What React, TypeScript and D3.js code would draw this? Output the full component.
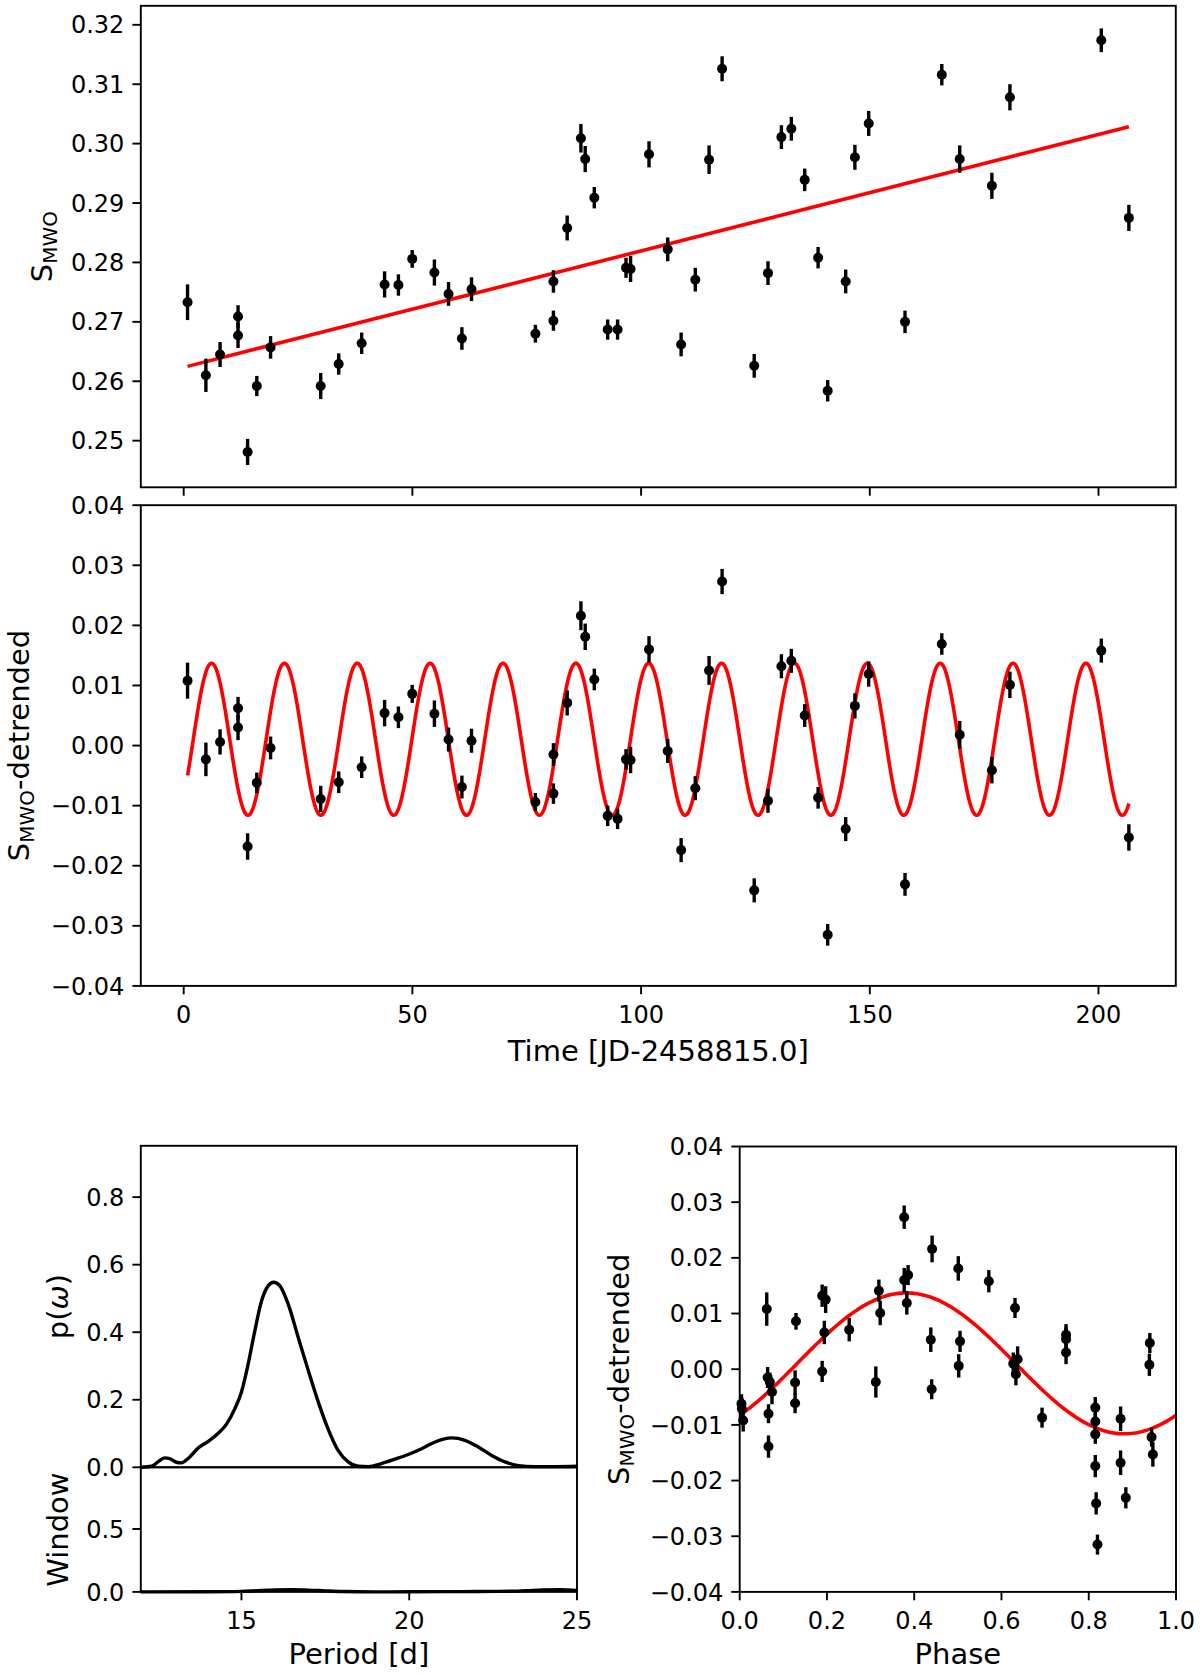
import React from 'react';
import * as d3 from 'd3';

// ---------- Data ----------
const times = [0.84, 4.85, 7.95, 11.88, 11.88, 13.97, 15.98, 18.99, 29.95, 33.89, 38.91, 43.92, 46.94, 49.96, 54.81, 57.90, 60.82, 62.92, 76.89, 80.83, 80.83, 83.84, 86.84, 87.78, 89.77, 92.69, 94.86, 96.70, 97.70, 101.73, 105.82, 108.75, 111.85, 114.86, 117.71, 124.73, 127.74, 130.67, 132.84, 135.77, 138.70, 140.79, 144.73, 146.74, 149.76, 157.70, 165.74, 169.66, 176.69, 180.63, 200.61, 206.64];
const sValues = [0.2733, 0.2610, 0.2645, 0.2709, 0.2677, 0.2481, 0.2592, 0.2657, 0.2592, 0.2629, 0.2664, 0.2763, 0.2762, 0.2806, 0.2783, 0.2747, 0.2672, 0.2755, 0.2680, 0.2768, 0.2702, 0.2858, 0.3009, 0.2974, 0.2909, 0.2687, 0.2687, 0.2791, 0.2789, 0.2982, 0.2822, 0.2662, 0.2771, 0.2973, 0.3126, 0.2626, 0.2782, 0.3011, 0.3025, 0.2939, 0.2808, 0.2584, 0.2768, 0.2977, 0.3034, 0.2700, 0.3116, 0.2974, 0.2929, 0.3078, 0.3174, 0.2875];
const errors = [0.0030, 0.0028, 0.0021, 0.0019, 0.0021, 0.0022, 0.0017, 0.0019, 0.0022, 0.0018, 0.0018, 0.0022, 0.0018, 0.0015, 0.0022, 0.0020, 0.0019, 0.0020, 0.0015, 0.0019, 0.0017, 0.0021, 0.0024, 0.0022, 0.0018, 0.0017, 0.0017, 0.0017, 0.0022, 0.0022, 0.0020, 0.0020, 0.0020, 0.0024, 0.0021, 0.0020, 0.0020, 0.0020, 0.0020, 0.0019, 0.0018, 0.0018, 0.0020, 0.0021, 0.0021, 0.0019, 0.0018, 0.0023, 0.0022, 0.0022, 0.0020, 0.0022];
const detrended = [0.0108, -0.0023, 0.0006, 0.0062, 0.0030, -0.0168, -0.0062, -0.0004, -0.0089, -0.0061, -0.0036, 0.0054, 0.0047, 0.0086, 0.0053, 0.0010, -0.0069, 0.0008, -0.0094, -0.0015, -0.0080, 0.0071, 0.0216, 0.0181, 0.0110, -0.0117, -0.0122, -0.0023, -0.0024, 0.0160, -0.0009, -0.0174, -0.0071, 0.0125, 0.0273, -0.0241, -0.0092, 0.0132, 0.0141, 0.0050, -0.0087, -0.0315, -0.0139, 0.0066, 0.0119, -0.0231, 0.0169, 0.0018, -0.0041, 0.0101, 0.0158, -0.0153];
const phases = [0.062, 0.312, 0.502, 0.748, 0.748, 0.873, 0.004, 0.189, 0.873, 0.127, 0.440, 0.748, 0.940, 0.129, 0.438, 0.627, 0.815, 0.939, 0.815, 0.064, 0.066, 0.251, 0.441, 0.501, 0.631, 0.815, 0.944, 0.069, 0.127, 0.377, 0.633, 0.815, 0.005, 0.197, 0.377, 0.817, 0.008, 0.189, 0.319, 0.505, 0.693, 0.820, 0.066, 0.194, 0.383, 0.885, 0.386, 0.637, 0.074, 0.322, 0.571, 0.947];

// linear trend fit
const trendIntercept = 0.26234;
const trendSlope = 0.000196;

// sinusoid fit
const sinePeriod = 15.93;
const sineAmplitude = 0.01265;
const sineOffset = 0.00105;
const sinePeakPhase = 0.382;

// periodogram
const periodGrid = [12.02, 12.32, 12.51, 12.71, 12.86, 13.06, 13.21, 13.41, 13.71, 14.01, 14.30, 14.55, 14.80, 15.00, 15.20, 15.40, 15.60, 15.80, 15.96, 16.14, 16.39, 16.69, 16.99, 17.29, 17.58, 17.88, 18.18, 18.48, 18.78, 19.17, 19.57, 19.97, 20.37, 20.77, 21.26, 21.66, 22.06, 22.46, 22.85, 23.25, 23.75, 24.34, 25.0];
const powerValues = [0.0, 0.003, 0.016, 0.028, 0.026, 0.015, 0.013, 0.026, 0.057, 0.077, 0.100, 0.127, 0.173, 0.223, 0.306, 0.405, 0.493, 0.538, 0.548, 0.538, 0.484, 0.385, 0.287, 0.193, 0.114, 0.050, 0.016, 0.003, 0.002, 0.011, 0.024, 0.038, 0.055, 0.075, 0.087, 0.080, 0.060, 0.035, 0.016, 0.005, 0.002, 0.002, 0.003];
const windowPeriods = [12.0, 14.0, 15.0, 15.5, 16.0, 16.5, 17.0, 17.5, 18.0, 19.0, 20.0, 21.0, 22.0, 23.0, 23.5, 24.0, 24.5, 25.0];
const windowValues = [0.0, 0.001, 0.004, 0.010, 0.015, 0.017, 0.014, 0.008, 0.003, 0.0, 0.001, 0.002, 0.003, 0.005, 0.010, 0.015, 0.017, 0.012];

// ticks
const timeTicks = [0, 50, 100, 150, 200];
const topYTicks = [0.25, 0.26, 0.27, 0.28, 0.29, 0.30, 0.31, 0.32];
const detrTicks = [-0.04, -0.03, -0.02, -0.01, 0.0, 0.01, 0.02, 0.03, 0.04];
const periodTicks = [15, 20, 25];
const powerTicks = [0.0, 0.2, 0.4, 0.6, 0.8];
const windowTicks = [0.0, 0.5];
const phaseTicks = [0.0, 0.2, 0.4, 0.6, 0.8, 1.0];

const FONT = "'DejaVu Sans', 'Liberation Sans', sans-serif";
const TICK_FS = 24;
const LABEL_FS = 29;
const TICK_LEN = 8.4;
const FRAME_W = 1.9;
const RED = '#ff0000';

type Scale = d3.ScaleLinear<number, number>;

function YAxis({ scale, ticks, x, fmt }: { scale: Scale; ticks: number[]; x: number; fmt: (v: number) => string }) {
  return (
    <g>
      {ticks.map((t, i) => (
        <g key={i}>
          <line x1={x - TICK_LEN} x2={x} y1={scale(t)} y2={scale(t)} stroke="#000" strokeWidth={FRAME_W} />
          <text x={x - TICK_LEN - 8} y={scale(t)} dy="0.36em" textAnchor="end" fontSize={TICK_FS} fontFamily={FONT} fill="#000">
            {fmt(t)}
          </text>
        </g>
      ))}
    </g>
  );
}

function XAxis({ scale, ticks, y, fmt, labels = true }: { scale: Scale; ticks: number[]; y: number; fmt: (v: number) => string; labels?: boolean }) {
  return (
    <g>
      {ticks.map((t, i) => (
        <g key={i}>
          <line x1={scale(t)} x2={scale(t)} y1={y} y2={y + TICK_LEN} stroke="#000" strokeWidth={FRAME_W} />
          {labels && (
            <text x={scale(t)} y={y + 37} textAnchor="middle" fontSize={TICK_FS} fontFamily={FONT} fill="#000">
              {fmt(t)}
            </text>
          )}
        </g>
      ))}
    </g>
  );
}

function Frame({ x0, x1, y0, y1 }: { x0: number; x1: number; y0: number; y1: number }) {
  return <rect x={x0} y={y0} width={x1 - x0} height={y1 - y0} fill="none" stroke="#000" strokeWidth={FRAME_W} />;
}

function ErrPoints({ xs, ys, es, sx, sy }: { xs: number[]; ys: number[]; es: number[]; sx: Scale; sy: Scale }) {
  return (
    <g>
      {xs.map((xv, i) => (
        <line key={'e' + i} x1={sx(xv)} x2={sx(xv)} y1={sy(ys[i] - es[i])} y2={sy(ys[i] + es[i])} stroke="#000" strokeWidth={3.4} />
      ))}
      {xs.map((xv, i) => (
        <circle key={'c' + i} cx={sx(xv)} cy={sy(ys[i])} r={5} fill="#000" />
      ))}
    </g>
  );
}

function YLabel({ x, y, main, sub, tail }: { x: number; y: number; main: string; sub?: string; tail?: string }) {
  return (
    <text transform={`translate(${x},${y}) rotate(-90)`} textAnchor="middle" fontSize={LABEL_FS} fontFamily={FONT} fill="#000">
      {main}
      {sub && (
        <tspan fontSize={20} dy={5}>
          {sub}
        </tspan>
      )}
      {tail && <tspan dy={-5}>{tail}</tspan>}
    </text>
  );
}

export default function App() {
  const W = 1200;
  const H = 1675;

  // layout
  const L = 140.8, R = 1175.8;
  const topY0 = 5.8, topY1 = 487.3;
  const midY0 = 505.2, midY1 = 985.9;
  const pL = 140.8, pR = 577, pY0 = 1145.8, pDiv = 1467.3, pY1 = 1591.9;
  const phL = 739.7, phR = 1176, phY0 = 1146.5, phY1 = 1591.9;

  const xT = d3.scaleLinear().domain([-9.38, 216.9]).range([L, R]);
  const yTop = d3.scaleLinear().domain([0.24215, 0.3232]).range([topY1, topY0]);
  const yMid = d3.scaleLinear().domain([-0.04, 0.04]).range([midY1, midY0]);
  const xP = d3.scaleLinear().domain([12, 25]).range([pL, pR]);
  const yP = d3.scaleLinear().domain([0, 0.952]).range([pDiv, pY0]);
  const yWin = d3.scaleLinear().domain([0, 0.99]).range([pY1, pDiv]);
  const xPh = d3.scaleLinear().domain([0, 1]).range([phL, phR]);
  const yPh = d3.scaleLinear().domain([-0.04, 0.04]).range([phY1, phY0]);

  const tMin = d3.min(times) as number;
  const tMax = d3.max(times) as number;

  const trend = (t: number) => trendIntercept + trendSlope * t;
  const trendPath = d3.line<number>().x((t) => xT(t)).y((t) => yTop(trend(t)))([tMin, tMax]) as string;

  const sineT = (t: number) => sineOffset + sineAmplitude * Math.cos(2 * Math.PI * (t / sinePeriod - sinePeakPhase));
  const tSamples = d3.range(tMin, tMax, 0.1).concat([tMax]);
  const sinePath = d3.line<number>().x((t) => xT(t)).y((t) => yMid(sineT(t)))(tSamples) as string;

  const sinePh = (p: number) => sineOffset + sineAmplitude * Math.cos(2 * Math.PI * (p - sinePeakPhase));
  const phSamples = d3.range(0, 1.0001, 0.005);
  const phasePath = d3.line<number>().x((p) => xPh(p)).y((p) => yPh(sinePh(p)))(phSamples) as string;

  const powerPath = d3
    .line<number>()
    .x((p) => xP(p))
    .y((_, i) => yP(powerValues[i]))
    .curve(d3.curveMonotoneX)(periodGrid) as string;
  const windowPath = d3
    .line<number>()
    .x((p) => xP(p))
    .y((_, i) => yWin(windowValues[i]))
    .curve(d3.curveMonotoneX)(windowPeriods) as string;

  const f2 = d3.format('.2f');
  const f1 = d3.format('.1f');
  const fd = d3.format('d');

  return (
    <svg width={W} height={H} style={{ position: 'absolute', left: 0, top: 0, background: '#fff' }} xmlns="http://www.w3.org/2000/svg">
      <rect x={0} y={0} width={W} height={H} fill="#fff" />

      {/* ---------- Top panel ---------- */}
      <path d={trendPath} stroke={RED} strokeWidth={3.6} fill="none" />
      <ErrPoints xs={times} ys={sValues} es={errors} sx={xT} sy={yTop} />
      <Frame x0={L} x1={R} y0={topY0} y1={topY1} />
      <YAxis scale={yTop} ticks={topYTicks} x={L} fmt={f2} />
      <XAxis scale={xT} ticks={timeTicks} y={topY1} fmt={fd} labels={false} />
      <YLabel x={51.5} y={(topY0 + topY1) / 2} main="S" sub="MWO" />

      {/* ---------- Middle panel ---------- */}
      <path d={sinePath} stroke={RED} strokeWidth={3.6} fill="none" />
      <ErrPoints xs={times} ys={detrended} es={errors} sx={xT} sy={yMid} />
      <Frame x0={L} x1={R} y0={midY0} y1={midY1} />
      <YAxis scale={yMid} ticks={detrTicks} x={L} fmt={f2} />
      <XAxis scale={xT} ticks={timeTicks} y={midY1} fmt={fd} />
      <YLabel x={29} y={(midY0 + midY1) / 2} main="S" sub="MWO" tail="-detrended" />
      <text x={(L + R) / 2} y={1060.5} textAnchor="middle" fontSize={LABEL_FS} fontFamily={FONT} fill="#000">
        Time [JD-2458815.0]
      </text>

      {/* ---------- Periodogram ---------- */}
      <Frame x0={pL} x1={pR} y0={pY0} y1={pDiv} />
      <Frame x0={pL} x1={pR} y0={pDiv} y1={pY1} />
      <path d={powerPath} stroke="#000" strokeWidth={3.4} fill="none" strokeLinejoin="round" />
      <path d={windowPath} stroke="#000" strokeWidth={3.4} fill="none" strokeLinejoin="round" />
      <YAxis scale={yP} ticks={powerTicks} x={pL} fmt={f1} />
      <YAxis scale={yWin} ticks={windowTicks} x={pL} fmt={f1} />
      <XAxis scale={xP} ticks={periodTicks} y={pY1} fmt={fd} />
      <text transform={`translate(68,${(pY0 + pDiv) / 2}) rotate(-90)`} textAnchor="middle" fontSize={LABEL_FS} fontFamily={FONT} fill="#000">
        p(<tspan fontStyle="italic">ω</tspan>)
      </text>
      <text transform={`translate(67.5,${(pDiv + pY1) / 2}) rotate(-90)`} textAnchor="middle" fontSize={LABEL_FS} fontFamily={FONT} fill="#000">
        Window
      </text>
      <text x={(pL + pR) / 2} y={1664} textAnchor="middle" fontSize={LABEL_FS} fontFamily={FONT} fill="#000">
        Period [d]
      </text>

      {/* ---------- Phase panel ---------- */}
      <path d={phasePath} stroke={RED} strokeWidth={3.6} fill="none" />
      <ErrPoints xs={phases} ys={detrended} es={errors} sx={xPh} sy={yPh} />
      <Frame x0={phL} x1={phR} y0={phY0} y1={phY1} />
      <YAxis scale={yPh} ticks={detrTicks} x={phL} fmt={f2} />
      <XAxis scale={xPh} ticks={phaseTicks} y={phY1} fmt={f1} />
      <YLabel x={629} y={(phY0 + phY1) / 2} main="S" sub="MWO" tail="-detrended" />
      <text x={(phL + phR) / 2} y={1664} textAnchor="middle" fontSize={LABEL_FS} fontFamily={FONT} fill="#000">
        Phase
      </text>
    </svg>
  );
}
